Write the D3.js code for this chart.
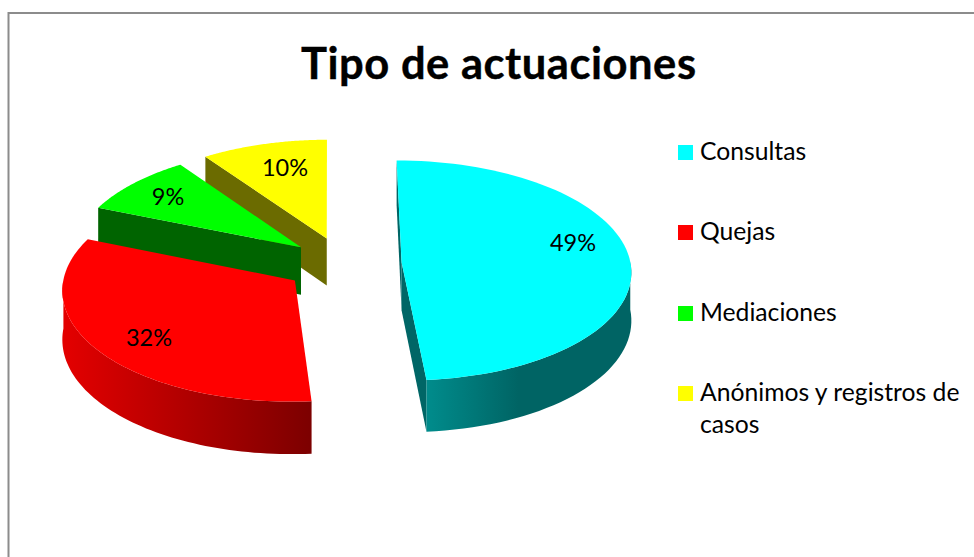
<!DOCTYPE html>
<html>
<head>
<meta charset="utf-8">
<script src="https://cdn.jsdelivr.net/npm/d3@7"></script>
<style>
html,body{margin:0;padding:0;background:#fff;overflow:hidden}
text{font-family:Lato,"Open Sans",sans-serif;fill:#000}
</style>
</head>
<body>
<svg id="c" width="974" height="557"></svg>
<script>
const chartTitle = "Tipo de actuaciones";
const categories = ["Consultas", "Quejas", "Mediaciones", "Anónimos y registros de casos"];
const values = [48.76, 32.49, 9.06, 9.69];

const topColors = ["#00ffff", "#ff0000", "#00ff00", "#ffff00"];
const cutColors = ["#006666", "#800000", "#006400", "#6b6b00"];
const wallStops = [
  [[0, "#008c8c"], [0.45, "#006464"], [1, "#006464"]],
  [[0, "#e40000"], [1, "#7c0000"]],
  [[0, "#006400"], [1, "#006400"]],
  [[0, "#6b6b00"], [1, "#6b6b00"]]
];
const explosions = [0.254, 0.26, 0.24, 0.245];
const labelLayout = [[573, 243], [149, 338], [168, 197], [285, 168]];
const legendRows = [160, 240, 321, 401];

const W = 974, H = 557;
const Cx = 343.5, Cy = 263.5, R = 229, A = 109.5, K = 0.074, DEPTH = 48;
const ROT = -0.25 * Math.PI / 180;

const svg = d3.select("#c");
const defs = svg.append("defs");

// frame
svg.append("path").attr("d", `M8.5 ${H} V13 H${W}`)
  .attr("fill", "none").attr("stroke", "#8c8c8c").attr("stroke-width", 2);

// title
svg.append("text").attr("x", 301).attr("y", 78.5)
  .attr("font-size", 43.5).attr("font-weight", 700)
  .attr("stroke", "#000").attr("stroke-width", 0.4)
  .attr("textLength", 395).attr("lengthAdjust", "spacing").text(chartTitle);

const pie = d3.pie().sort(null).startAngle(ROT).endAngle(ROT + 2 * Math.PI);
const arcs = pie(values).map((d, i) => ({ ...d, i }));

const project = (X, Z, drop = 0) => {
  const s = 1 / (1 - K * Z);
  return [Cx + R * X * s, Cy + A * Z * s + drop * s];
};
const sliceFrame = d => {
  const m = (d.startAngle + d.endAngle) / 2, e = explosions[d.i];
  return [e * Math.sin(m), -e * Math.cos(m)];
};
const rim = (d, a, drop = 0) => {
  const [ox, oz] = sliceFrame(d);
  return project(ox + Math.sin(a), oz - Math.cos(a), drop);
};
const apex = (d, drop = 0) => {
  const [ox, oz] = sliceFrame(d);
  return project(ox, oz, drop);
};
const angleSteps = (a, b) => d3.range(0, 81).map(k => a + (b - a) * k / 80);
const line = d3.line();

const g = svg.append("g");
// back slices first
[3, 2, 1, 0].forEach(idx => {
  const d = arcs[idx];
  const ends = [
    { a: d.startAngle, nx: -Math.cos(d.startAngle), nz: -Math.sin(d.startAngle) },
    { a: d.endAngle, nx: Math.cos(d.endAngle), nz: Math.sin(d.endAngle) }
  ];
  // cut faces that look toward the viewer
  ends.filter(e => e.nz >= -0.02 && e.nx < 0).forEach(e => {
    const pts = [apex(d), rim(d, e.a), rim(d, e.a, DEPTH), apex(d, DEPTH)];
    g.append("path").attr("d", line(pts) + "Z").attr("fill", cutColors[idx]);
  });
  // outer wall, front-facing part only
  const front = angleSteps(d.startAngle, d.endAngle).filter(a => Math.cos(a) <= 0.03);
  if (front.length > 1) {
    const upper = front.map(a => rim(d, a));
    const lower = front.map(a => rim(d, a, DEPTH)).reverse();
    const xs = upper.map(p => p[0]);
    const id = "wall" + idx;
    const grad = defs.append("linearGradient").attr("id", id)
      .attr("gradientUnits", "userSpaceOnUse")
      .attr("x1", d3.min(xs)).attr("x2", d3.max(xs))
      .attr("y1", 0).attr("y2", 0);
    wallStops[idx].forEach(s => grad.append("stop").attr("offset", s[0]).attr("stop-color", s[1]));
    g.append("path").attr("d", line(upper.concat(lower)) + "Z").attr("fill", `url(#${id})`);
  }
  // top face
  const topPts = [apex(d)].concat(angleSteps(d.startAngle, d.endAngle).map(a => rim(d, a)));
  g.append("path").attr("d", line(topPts) + "Z").attr("fill", topColors[idx]);
});

// data labels
arcs.forEach((d, i) => {
  svg.append("text").attr("x", labelLayout[i][0]).attr("y", labelLayout[i][1] + 8)
    .attr("text-anchor", "middle").attr("font-size", 23.5)
    .text(d3.format(".0f")(d.value) + "%");
});

// legend
const legend = svg.append("g");
categories.forEach((name, i) => {
  const base = legendRows[i];
  legend.append("rect").attr("x", 678).attr("y", base - 15).attr("width", 15).attr("height", 15)
    .attr("fill", topColors[i]);
  if (i === 3) {
    legend.append("text").attr("x", 700).attr("y", base).attr("font-size", 24.7).text("Anónimos y registros de");
    legend.append("text").attr("x", 700).attr("y", base + 32).attr("font-size", 24.7).text("casos");
  } else {
    legend.append("text").attr("x", 700).attr("y", base).attr("font-size", 24.7).text(name);
  }
});
</script>
</body>
</html>
